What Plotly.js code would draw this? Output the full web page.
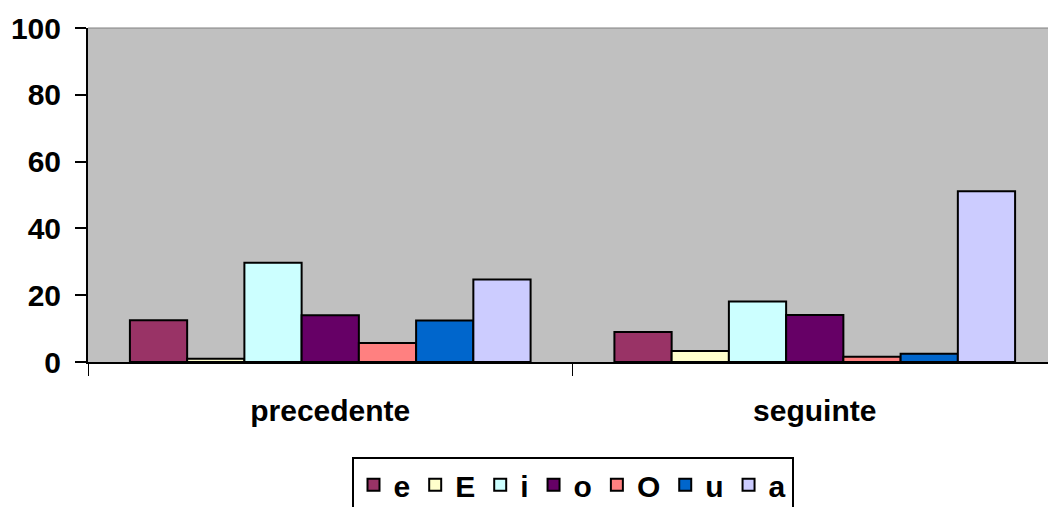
<!DOCTYPE html>
<html>
<head>
<meta charset="utf-8">
<script src="https://cdn.plot.ly/plotly-3.0.1.min.js"></script>
<style>html,body{margin:0;padding:0;background:#fff;overflow:hidden;}#chart{width:1057px;height:515px;}</style>
</head>
<body>
<div id="chart"></div>
<script>
const categories = ["precedente", "seguinte"];
const seriesNames = ["e", "E", "i", "o", "O", "u", "a"];
const seriesColors = ["#993366", "#FFFFCC", "#CCFFFF", "#660066", "#FF8080", "#0066CC", "#CCCCFF"];
const valuesE  = [12.5, 9.0];
const valuesE2 = [1.0, 3.3];
const valuesI  = [29.7, 18.1];
const valuesO  = [14.0, 14.1];
const valuesO2 = [5.7, 1.6];
const valuesU  = [12.4, 2.5];
const valuesA  = [24.7, 51.1];
const yTicks = [0, 20, 40, 60, 80, 100];

const allValues = [valuesE, valuesE2, valuesI, valuesO, valuesO2, valuesU, valuesA];
const font = {family: "Liberation Sans, Arial, sans-serif", size: 30, color: "#000", weight: "bold"};

const traces = seriesNames.map((n, i) => ({
  type: "bar",
  name: n,
  x: categories,
  y: allValues[i],
  marker: {color: seriesColors[i], line: {color: "#000", width: 2}},
  hoverinfo: "skip"
}));

const layout = {
  width: 1057, height: 515,
  margin: {l: 88, r: 0, t: 28, b: 153},
  paper_bgcolor: "#fff",
  plot_bgcolor: "#C0C0C0",
  barmode: "group",
  bargap: 0.173,
  bargroupgap: 0,
  font: font,
  showlegend: true,
  legend: {
    orientation: "h",
    x: 0.5, xanchor: "center",
    y: -0.284, yanchor: "top",
    bordercolor: "#000", borderwidth: 2,
    bgcolor: "#fff",
    font: font,
    itemwidth: 30,
    traceorder: "normal"
  },
  xaxis: {
    type: "category",
    showgrid: false,
    zeroline: false,
    showline: true, linecolor: "#000", linewidth: 2,
    ticks: "outside", tickson: "boundaries", ticklen: 12, tickwidth: 1, tickcolor: "#000",
    ticklabelstandoff: 21,
    tickfont: font
  },
  yaxis: {
    range: [0, 100],
    tickvals: yTicks,
    ticktext: yTicks.map(String),
    showgrid: false,
    zeroline: false,
    showline: true, linecolor: "#000", linewidth: 2,
    ticks: "outside", ticklen: 11, tickwidth: 2, tickcolor: "#000",
    ticklabelstandoff: 8,
    tickfont: font
  },
  shapes: [{
    type: "line", xref: "paper", yref: "paper",
    x0: 0, x1: 1, y0: 1, y1: 1,
    line: {color: "#808080", width: 1}
  }]
};

Plotly.newPlot("chart", traces, layout, {staticPlot: true, displayModeBar: false});
</script>
</body>
</html>
